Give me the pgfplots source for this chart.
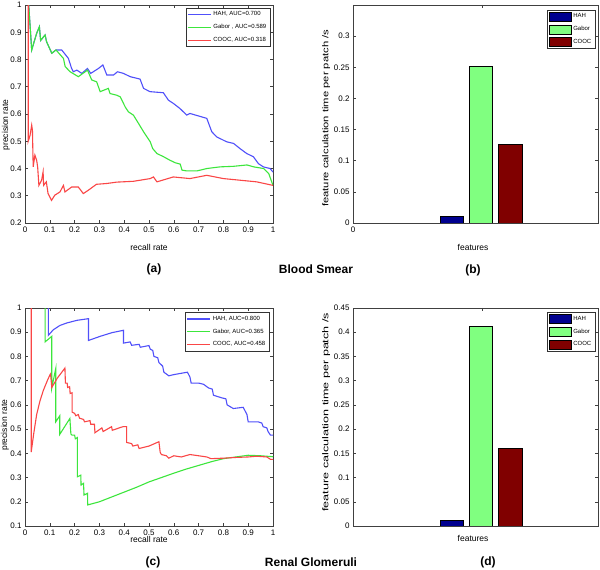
\documentclass[border=0pt]{standalone}
\usepackage{fontspec}
\setmainfont{Liberation Sans}
\usepackage{graphicx}
\usepackage{pgfplots}
\pgfplotsset{compat=1.18}

\definecolor{hahline}{RGB}{80,80,250}
\definecolor{gabline}{RGB}{60,230,60}
\definecolor{coocline}{RGB}{250,70,70}
\definecolor{hahbar}{RGB}{0,0,143}
\definecolor{gabbar}{RGB}{128,255,128}
\definecolor{coocbar}{RGB}{128,0,0}

\pgfplotsset{
  matfig/.style={
    scale only axis,
    axis line style={black!75, line width=0.5pt},
    tick style={black!75, line width=0.5pt},
    major tick length=3pt,
    tick align=inside,
    ticklabel style={font=\fontsize{8}{9}\selectfont},
    label style={font=\fontsize{8.5}{10}\selectfont},
    /pgf/number format/assume math mode=true,
    /pgf/number format/fixed,
    scaled ticks=false,
    legend cell align=left,
  },
  prfig/.style={
    matfig,
    width=248pt, height=218pt,
    xmin=0, xmax=1,
    xtick={0,0.1,...,1.01},
    xticklabels={0,0.1,0.2,0.3,0.4,0.5,0.6,0.7,0.8,0.9,1},
    xlabel={recall rate},
    ylabel={precision rate},
    legend image code/.code={\draw[#1] (0pt,0pt) -- (23pt,0pt);},
    legend style={anchor=north east, font=\fontsize{6}{7}\selectfont,
      draw=black!80, line width=0.5pt, inner sep=1.5pt, row sep=3pt},
  },
  barfig/.style={
    matfig,
    width=245pt, height=218pt,
    xmin=0, xmax=1.9,
    xlabel={features},
    legend style={anchor=north east, font=\fontsize{6}{7}\selectfont,
      draw=black!80, line width=0.5pt, inner sep=1.5pt, row sep=3pt},
  },
  barleg/.style={legend image code/.code={\draw[#1] (0pt,-4.5pt) rectangle (22pt,4.5pt);}},
  hahstyle/.style={draw=hahline, line width=1.1pt},
  gabstyle/.style={draw=gabline, line width=1.1pt},
  coocstyle/.style={draw=coocline, line width=1.1pt},
}

\begin{document}
\begin{tikzpicture}
\useasboundingbox (0pt,0pt) rectangle (600pt,570pt);
\fill[white] (0pt,0pt) rectangle (600pt,570pt);

% (a) Blood Smear, precision-recall
\begin{axis}[prfig, at={(25pt,347pt)}, anchor=south west,
  ymin=0.2, ymax=1, ytick={0.2,0.3,...,1.01},
  yticklabels={0.2,0.3,0.4,0.5,0.6,0.7,0.8,0.9,1},
  xlabel style={at={(axis description cs:0.5,-0.11)}, anchor=center},
  ylabel style={at={(axis description cs:-0.077,0.45)}, anchor=center},
  legend style={at={(0.988,0.986)}},
]
\addplot[hahstyle] coordinates {
  (0.015,1.0) (0.027,0.835) (0.047,0.896) (0.058,0.92) (0.063,0.87) (0.081,0.89)
  (0.087,0.865) (0.108,0.823) (0.125,0.835) (0.148,0.835) (0.175,0.804) (0.188,0.767)
  (0.195,0.755) (0.209,0.761) (0.229,0.749) (0.252,0.767) (0.265,0.749) (0.296,0.767)
  (0.314,0.78) (0.33,0.743) (0.357,0.743) (0.373,0.755) (0.397,0.749) (0.424,0.737)
  (0.464,0.728) (0.478,0.694) (0.504,0.682) (0.558,0.678) (0.578,0.651) (0.598,0.639)
  (0.625,0.62) (0.652,0.596) (0.665,0.602) (0.733,0.584) (0.753,0.535) (0.773,0.516)
  (0.813,0.498) (0.841,0.492) (0.867,0.473) (0.894,0.455) (0.921,0.443) (0.941,0.418)
  (0.961,0.406) (0.988,0.4) (1.0,0.387)
};
\addlegendentry{HAH, AUC=0.700}
\addplot[gabstyle] coordinates {
  (0.015,1.0) (0.027,0.835) (0.047,0.896) (0.058,0.92) (0.063,0.87) (0.081,0.89)
  (0.087,0.865) (0.108,0.823) (0.125,0.835) (0.155,0.804) (0.162,0.774) (0.182,0.755)
  (0.215,0.737) (0.252,0.761) (0.269,0.725) (0.289,0.718) (0.303,0.682) (0.336,0.694)
  (0.343,0.675) (0.37,0.669) (0.384,0.663) (0.404,0.626) (0.417,0.608) (0.437,0.596)
  (0.458,0.565) (0.478,0.535) (0.505,0.498) (0.515,0.473) (0.532,0.455) (0.559,0.443)
  (0.585,0.43) (0.606,0.421) (0.626,0.416) (0.633,0.394) (0.653,0.391) (0.693,0.391)
  (0.734,0.4) (0.787,0.406) (0.841,0.408) (0.895,0.413) (0.922,0.406) (0.962,0.4)
  (0.983,0.381) (1.0,0.338)
};
\addlegendentry{Gabor , AUC=0.589}
\addplot[coocstyle] coordinates {
  (0.013,1.0) (0.013,0.5) (0.02,0.52) (0.027,0.559) (0.03,0.54) (0.033,0.406)
  (0.04,0.449) (0.047,0.43) (0.051,0.406) (0.056,0.338) (0.067,0.357) (0.073,0.388)
  (0.075,0.338) (0.086,0.351) (0.093,0.308) (0.107,0.283) (0.12,0.302) (0.141,0.314)
  (0.155,0.338) (0.161,0.314) (0.188,0.332) (0.215,0.332) (0.235,0.308) (0.255,0.32)
  (0.288,0.342) (0.33,0.345) (0.37,0.35) (0.437,0.353) (0.505,0.363) (0.518,0.369)
  (0.532,0.351) (0.598,0.369) (0.665,0.363) (0.733,0.375) (0.8,0.363) (0.867,0.357)
  (0.934,0.351) (1.0,0.338)
};
\addlegendentry{COOC, AUC=0.318}
\end{axis}

% (b) Blood Smear, calculation time
\begin{axis}[barfig, at={(353pt,347pt)}, anchor=south west,
  ymin=0, ymax=0.35, ytick={0,0.05,...,0.31},
  yticklabels={0,0.05,0.1,0.15,0.2,0.25,0.3},
  xtick={0,1}, xticklabels={0,{}},
  ylabel={\scalebox{1.32}[1]{feature calculation time per patch /s}},
  xlabel style={at={(axis description cs:0.49,-0.11)}, anchor=center},
  ylabel style={at={(axis description cs:-0.11,0.48)}, anchor=center},
  legend style={at={(0.988,0.977)}},
]
\addplot[ybar, bar width=0.182, fill=hahbar, draw=black, line width=0.5pt, barleg, bar shift=0pt]
  coordinates {(0.764,0.011)};
\addlegendentry{HAH}
\addplot[ybar, bar width=0.182, fill=gabbar, draw=black, line width=0.5pt, barleg, bar shift=0pt]
  coordinates {(0.991,0.251)};
\addlegendentry{Gabor}
\addplot[ybar, bar width=0.182, fill=coocbar, draw=black, line width=0.5pt, barleg, bar shift=0pt]
  coordinates {(1.218,0.126)};
\addlegendentry{COOC}
\end{axis}

% (c) Renal Glomeruli, precision-recall
\begin{axis}[prfig, at={(25pt,44pt)}, anchor=south west,
  ymin=0.1, ymax=1, ytick={0.1,0.2,...,1.01},
  yticklabels={0.1,0.2,0.3,0.4,0.5,0.6,0.7,0.8,0.9,1},
  xlabel style={at={(axis description cs:0.5,-0.064)}, anchor=center},
  ylabel style={at={(axis description cs:-0.081,0.463)}, anchor=center},
  legend style={at={(0.984,0.98)}},
]
\addplot[hahstyle] coordinates {
  (0.094,1.0) (0.094,0.887) (0.114,0.91) (0.141,0.928) (0.168,0.938) (0.209,0.949)
  (0.256,0.956) (0.256,0.866) (0.303,0.883) (0.35,0.898) (0.397,0.908) (0.397,0.855)
  (0.424,0.86) (0.43,0.846) (0.46,0.85) (0.465,0.838) (0.5,0.845) (0.505,0.83)
  (0.515,0.825) (0.52,0.8) (0.535,0.795) (0.54,0.775) (0.555,0.76) (0.56,0.735)
  (0.58,0.72) (0.6,0.725) (0.655,0.735) (0.665,0.715) (0.67,0.69) (0.7,0.69)
  (0.72,0.685) (0.74,0.67) (0.755,0.665) (0.76,0.64) (0.79,0.63) (0.81,0.625)
  (0.815,0.6) (0.84,0.585) (0.88,0.59) (0.895,0.56) (0.9,0.53) (0.94,0.53)
  (0.955,0.525) (0.96,0.51) (0.975,0.505) (0.98,0.49) (0.99,0.475) (1.0,0.475)
};
\addlegendentry{HAH, AUC=0.800}
\addplot[gabstyle] coordinates {
  (0.081,1.0) (0.081,0.86) (0.108,0.883) (0.108,0.67) (0.124,0.75) (0.124,0.53)
  (0.14,0.555) (0.14,0.478) (0.181,0.544) (0.185,0.48) (0.19,0.475) (0.2,0.475)
  (0.203,0.46) (0.211,0.465) (0.211,0.303) (0.225,0.31) (0.226,0.269) (0.236,0.276)
  (0.238,0.228) (0.252,0.235) (0.253,0.187) (0.3,0.2) (0.35,0.22) (0.4,0.24)
  (0.45,0.26) (0.5,0.282) (0.55,0.3) (0.6,0.318) (0.65,0.335) (0.7,0.35)
  (0.75,0.365) (0.8,0.378) (0.85,0.385) (0.9,0.392) (0.95,0.39) (1.0,0.386)
};
\addlegendentry{Gabor, AUC=0.365}
\addplot[coocstyle] coordinates {
  (0.025,1.0) (0.025,0.405) (0.035,0.48) (0.047,0.56) (0.06,0.615) (0.074,0.66)
  (0.09,0.7) (0.101,0.725) (0.103,0.728) (0.108,0.672) (0.13,0.71) (0.161,0.752)
  (0.163,0.69) (0.17,0.69) (0.172,0.672) (0.18,0.675) (0.182,0.647) (0.19,0.65)
  (0.19,0.57) (0.2,0.565) (0.205,0.555) (0.215,0.56) (0.22,0.545) (0.236,0.54)
  (0.24,0.53) (0.262,0.535) (0.265,0.52) (0.28,0.52) (0.282,0.485) (0.31,0.505)
  (0.315,0.49) (0.349,0.51) (0.352,0.495) (0.38,0.505) (0.395,0.51) (0.41,0.51)
  (0.41,0.445) (0.43,0.44) (0.435,0.43) (0.455,0.435) (0.46,0.42) (0.48,0.425)
  (0.5,0.43) (0.54,0.448) (0.545,0.405) (0.55,0.395) (0.57,0.39) (0.58,0.38)
  (0.6,0.39) (0.63,0.385) (0.665,0.395) (0.7,0.39) (0.733,0.385) (0.75,0.378)
  (0.8,0.38) (0.85,0.383) (0.9,0.385) (0.934,0.388) (0.975,0.385) (0.99,0.375)
  (1.0,0.375)
};
\addlegendentry{COOC, AUC=0.458}
\end{axis}

% (d) Renal Glomeruli, calculation time
\begin{axis}[barfig, at={(353pt,44pt)}, anchor=south west,
  ymin=0, ymax=0.45, ytick={0,0.05,...,0.451},
  yticklabels={0,0.05,0.1,0.15,0.2,0.25,0.3,0.35,0.4,0.45},
  xtick={1}, xticklabels={},
  ylabel={\scalebox{1.48}[1]{feature calculation time per patch /s}},
  xlabel style={at={(axis description cs:0.49,-0.055)}, anchor=center},
  ylabel style={at={(axis description cs:-0.11,0.522)}, anchor=center},
  legend style={at={(0.988,0.98)}},
]
\addplot[ybar, bar width=0.182, fill=hahbar, draw=black, line width=0.5pt, barleg, bar shift=0pt]
  coordinates {(0.764,0.012)};
\addlegendentry{HAH}
\addplot[ybar, bar width=0.182, fill=gabbar, draw=black, line width=0.5pt, barleg, bar shift=0pt]
  coordinates {(0.991,0.412)};
\addlegendentry{Gabor}
\addplot[ybar, bar width=0.182, fill=coocbar, draw=black, line width=0.5pt, barleg, bar shift=0pt]
  coordinates {(1.218,0.16)};
\addlegendentry{COOC}
\end{axis}

% panel captions
\node[font=\fontsize{12}{14}\selectfont\bfseries] at (154pt,301pt) {(a)};
\node[font=\fontsize{12}{14}\selectfont\bfseries] at (316pt,301pt) {Blood Smear};
\node[font=\fontsize{12}{14}\selectfont\bfseries] at (473pt,300pt) {(b)};
\node[font=\fontsize{12}{14}\selectfont\bfseries] at (153pt,8pt) {(c)};
\node[font=\fontsize{12}{14}\selectfont\bfseries] at (311pt,8pt) {Renal Glomeruli};
\node[font=\fontsize{12}{14}\selectfont\bfseries] at (488pt,8pt) {(d)};
\end{tikzpicture}
\end{document}
